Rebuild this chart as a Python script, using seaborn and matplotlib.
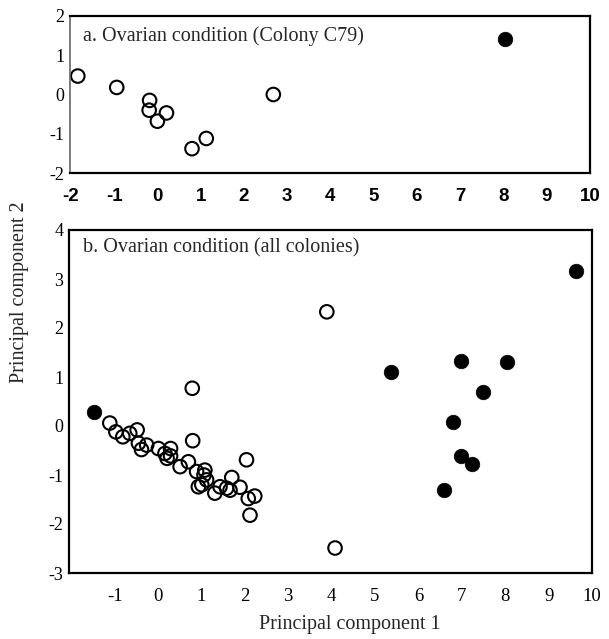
import matplotlib
matplotlib.use("Agg")
import matplotlib.pyplot as plt
import seaborn as sns
import pandas as pd

# ---------------- data ----------------
# Panel a: Colony C79
a_open_pc1 = [-1.84, -0.94, -0.18, -0.19, 0.21, 0.00, 0.80, 1.13, 2.68]
a_open_pc2 = [0.47, 0.18, -0.15, -0.40, -0.47, -0.68, -1.38, -1.12, 0.00]
a_fill_pc1 = [8.03]
a_fill_pc2 = [1.42]

# Panel b: all colonies
b_open_pc1 = [-1.11, -0.97, -0.81, -0.65, -0.48, -0.45, -0.38, -0.26, 0.01, 0.16,
              0.29, 0.21, 0.29, 0.51, 0.70, 0.80, 0.79, 0.89, 1.08, 1.06,
              1.01, 1.12, 1.31, 1.58, 1.70, 1.66, 1.89, 2.04, 2.08, 2.23,
              2.12, 1.43, 0.93, 3.89, 4.08]
b_open_pc2 = [0.06, -0.12, -0.22, -0.15, -0.08, -0.35, -0.48, -0.39, -0.46, -0.56,
              -0.46, -0.66, -0.61, -0.83, -0.73, -0.30, 0.77, -0.93, -0.90, -1.00,
              -1.20, -1.10, -1.37, -1.27, -1.05, -1.31, -1.25, -0.69, -1.48, -1.43,
              -1.82, -1.24, -1.24, 2.33, -2.49]
b_fill_pc1 = [-1.47, 9.63, 6.98, 8.05, 5.36, 7.48, 6.80, 6.98, 7.23, 6.60]
b_fill_pc2 = [0.28, 3.16, 1.33, 1.30, 1.10, 0.70, 0.09, -0.61, -0.78, -1.31]

a_xticks = [-2, -1, 0, 1, 2, 3, 4, 5, 6, 7, 8, 9, 10]
a_yticks = [-2, -1, 0, 1, 2]
b_xticks = [-1, 0, 1, 2, 3, 4, 5, 6, 7, 8, 9, 10]
b_yticks = [-3, -2, -1, 0, 1, 2, 3, 4]

title_a = "a. Ovarian condition (Colony C79)"
title_b = "b. Ovarian condition (all colonies)"
xlabel = "Principal component 1"
ylabel = "Principal component 2"

# ---------------- plot ----------------
sns.set_theme(style="white")
plt.rcParams["font.family"] = ["Liberation Serif", "DejaVu Serif"]

fig = plt.figure(figsize=(6.09, 6.39), dpi=100)
ax_a = fig.add_axes([70/609, 1-173/639, 520/609, 157/639])
ax_b = fig.add_axes([69/609, 1-573/639, 523/609, 343/639])

da_open = pd.DataFrame({"pc1": a_open_pc1, "pc2": a_open_pc2})
da_fill = pd.DataFrame({"pc1": a_fill_pc1, "pc2": a_fill_pc2})
db_open = pd.DataFrame({"pc1": b_open_pc1, "pc2": b_open_pc2})
db_fill = pd.DataFrame({"pc1": b_fill_pc1, "pc2": b_fill_pc2})

for ax, dopen, dfill in [(ax_a, da_open, da_fill), (ax_b, db_open, db_fill)]:
    sns.scatterplot(data=dopen, x="pc1", y="pc2", ax=ax, s=95, marker="o",
                    edgecolor="black", linewidth=1.5, legend=False)
    ax.collections[-1].set_facecolor("none")
    ax.collections[-1].set_edgecolor("black")
    sns.scatterplot(data=dfill, x="pc1", y="pc2", ax=ax, s=110, marker="o",
                    color="black", edgecolor="black", linewidth=0.5, legend=False)
    ax.set_xlabel("")
    ax.set_ylabel("")
    for sp in ax.spines.values():
        sp.set_color("black")
        sp.set_linewidth(1.6)
    ax.tick_params(direction="in", length=4, width=1.2, colors="black")

# panel a
ax_a.set_xlim(-2.02, 10)
ax_a.set_ylim(-2, 2)
ax_a.set_xticks(a_xticks)
ax_a.set_xticklabels([str(t) for t in a_xticks], fontfamily="Liberation Sans",
                     fontweight="bold", fontsize=13.5)
ax_a.set_yticks(a_yticks)
ax_a.set_yticklabels([str(t) for t in a_yticks], fontsize=13)
ax_a.tick_params(axis="x", pad=11)
ax_a.tick_params(axis="y", pad=4)
ax_a.spines["left"].set_color("#666666")
ax_a.spines["left"].set_linewidth(1.2)
ax_a.text(0.025, 0.87, title_a, transform=ax_a.transAxes, fontsize=14.5,
          ha="left", va="center")

# panel b
ax_b.set_xlim(-2.05, 10)
ax_b.set_ylim(-3, 4)
ax_b.set_xticks(b_xticks)
ax_b.set_xticklabels([str(t) for t in b_xticks], fontsize=13.5)
ax_b.set_yticks(b_yticks)
ax_b.set_yticklabels([str(t) for t in b_yticks], fontsize=13)
ax_b.tick_params(axis="x", pad=11)
ax_b.tick_params(axis="y", pad=4)
ax_b.text(0.027, 0.947, title_b, transform=ax_b.transAxes, fontsize=14.5,
          ha="left", va="center")

fig.text(350/609, 1-625/639, xlabel, ha="center", va="center", fontsize=14.5)
fig.text(20/609, 1-292/639, ylabel, ha="center", va="center", fontsize=14.5,
         rotation=90)

fig.savefig("out.png", dpi=100)
